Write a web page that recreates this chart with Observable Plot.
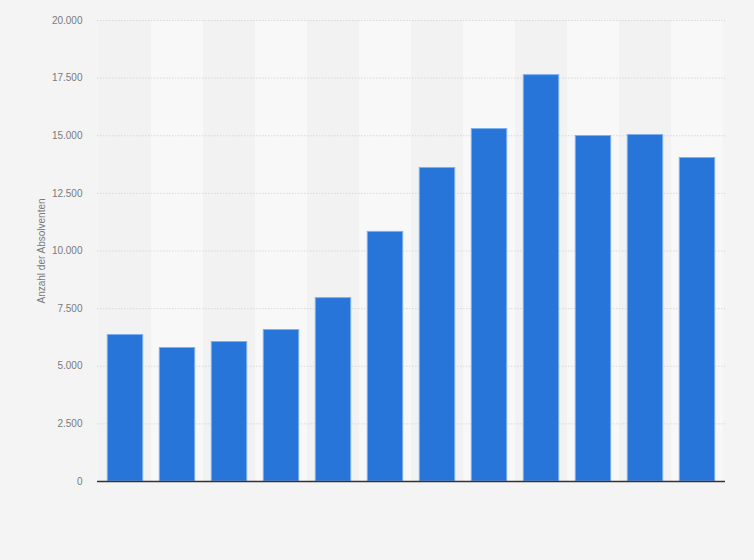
<!DOCTYPE html>
<html>
<head>
<meta charset="utf-8">
<script src="https://cdn.jsdelivr.net/npm/d3@7"></script>
<script src="https://cdn.jsdelivr.net/npm/@observablehq/plot@0.6"></script>
<style>
  html, body { margin: 0; padding: 0; background: #f4f4f4; }
  #chart { width: 754px; height: 560px; }
  svg { font-family: "Liberation Sans", Arial, sans-serif; }
</style>
</head>
<body>
<div id="chart"></div>
<script>
const categories = ["1", "2", "3", "4", "5", "6", "7", "8", "9", "10", "11", "12"];
const values = [6355, 5792, 6052, 6571, 7957, 10830, 13602, 15291, 17630, 14988, 15032, 14035];
const yTicks = [0, 2500, 5000, 7500, 10000, 12500, 15000, 17500, 20000];
const yLabel = "Anzahl der Absolventen";

const data = categories.map((c, i) => ({ cat: c, value: values[i], stripe: i % 2 }));
const de = d3.formatLocale({ decimal: ",", thousands: ".", grouping: [3], currency: ["", " €"] });
const fmt = de.format(",d");

const chart = Plot.plot({
  width: 754,
  height: 560,
  marginLeft: 97,
  marginRight: 29,
  marginTop: 20,
  marginBottom: 79,
  style: { background: "transparent", fontSize: "10px", color: "#777" },
  x: { domain: categories, padding: 0, axis: null },
  y: { domain: [0, 20000], ticks: yTicks, tickFormat: fmt, label: yLabel },
  marks: [
    Plot.barY(data, { x: "cat", y1: 0, y2: 20000, fill: d => d.stripe ? "#f8f8f8" : "#f2f2f2" }),
    Plot.gridY(yTicks, { stroke: "#d9d9d9", strokeOpacity: 1, strokeDasharray: "1.5,1.5" }),
    Plot.axisY(yTicks, { tickFormat: fmt, tickSize: 0, tickPadding: 15, fill: "#7a7a7a", fontSize: 10,
      label: yLabel, labelAnchor: "center", labelArrow: "none", labelOffset: 60 }),
    Plot.barY(data, { x: "cat", y: "value", fill: "#2775d9", stroke: "#7fb0ee", strokeWidth: 1, insetLeft: 8.3, insetRight: 8.3 }),
    Plot.ruleY([0], { stroke: "#333", strokeWidth: 1.3 })
  ]
});
document.getElementById("chart").appendChild(chart);
</script>
</body>
</html>
